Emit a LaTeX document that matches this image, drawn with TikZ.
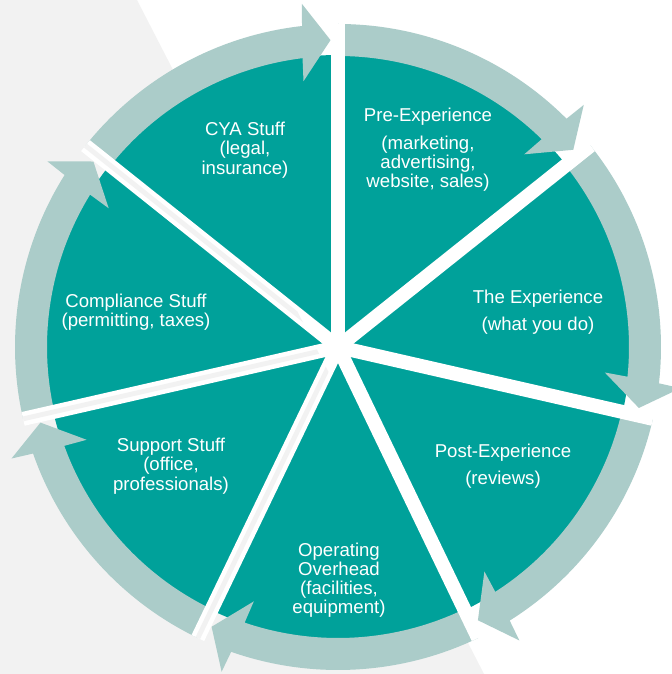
\documentclass[tikz,border=0pt]{standalone}
\usepackage{fontspec}
\setmainfont{Liberation Sans}
\definecolor{turquoise}{RGB}{0,161,154}
\definecolor{turqpale}{RGB}{171,204,201}
\definecolor{grisfond}{RGB}{242,242,242}
\usepackage{tikz}

\begin{document}
\begin{tikzpicture}[x=0.5pt,y=0.5pt,font=\fontsize{9.3}{9.6}\selectfont,
	etiquette/.style={white,align=center,inner sep=0pt},
	fente/.style={white,line width=7pt}]
	\useasboundingbox (-338,-327) rectangle (334,347);
	% fond
	\fill[white] (-338,-327) rectangle (334,347);
	\fill[grisfond] (-338,347) -- (-201,347) -- (146,-327) -- (-338,-327) -- cycle;
	% secteurs
	\foreach \i in {0,...,6}{
		\pgfmathsetmacro{\a}{90-\i*360/7}
		\pgfmathsetmacro{\b}{\a-360/7}
		\fill[turquoise] (0,0) -- (\a:292) arc[start angle=\a,end angle=\b,radius=292] -- cycle;
	}
	% fleches
	\foreach \i in {0,...,6}{
		\pgfmathsetmacro{\a}{90-\i*360/7}
		\pgfmathsetmacro{\b}{\a-360/7}
		\fill[turqpale] (\a:323) arc[start angle=\a,end angle=\b+6.4,radius=323]
			-- ({\b+6}:345) -- ({\b+1.4}:307) -- ({\b+7.4}:268) -- ({\b+7}:291)
			arc[start angle=\b+7,end angle=\a,radius=291] -- cycle;
	}
	% fentes
	\foreach \i in {0,...,6}
		\draw[fente] (0,0) -- ({90-\i*360/7}:323);
	\begin{scope}
		\clip (-338,347) -- (-201,347) -- (146,-327) -- (-338,-327) -- cycle;
		\foreach \i in {0,...,6}
			\draw[grisfond,line width=2.4pt] (0,0) -- ({90-\i*360/7}:323);
	\end{scope}
	% textes
	\node[etiquette] (pre) at (90,197) {Pre-Experience\\[4.2pt](marketing,\\advertising,\\website, sales)};
	\node[etiquette] (exp) at (200,35) {The Experience\\[3.8pt](what you do)};
	\node[etiquette] (post) at (165,-119) {Post-Experience\\[4.2pt](reviews)};
	\node[etiquette] (oper) at (1,-233) {Operating\\Overhead\\(facilities,\\equipment)};
	\node[etiquette] (supp) at (-167,-119) {Support Stuff\\(office,\\professionals)};
	\node[etiquette] (compl) at (-202,35) {Compliance Stuff\\(permitting, taxes)};
	\node[etiquette] (cya) at (-93,197) {CYA Stuff\\(legal,\\insurance)};
\end{tikzpicture}
\end{document}
